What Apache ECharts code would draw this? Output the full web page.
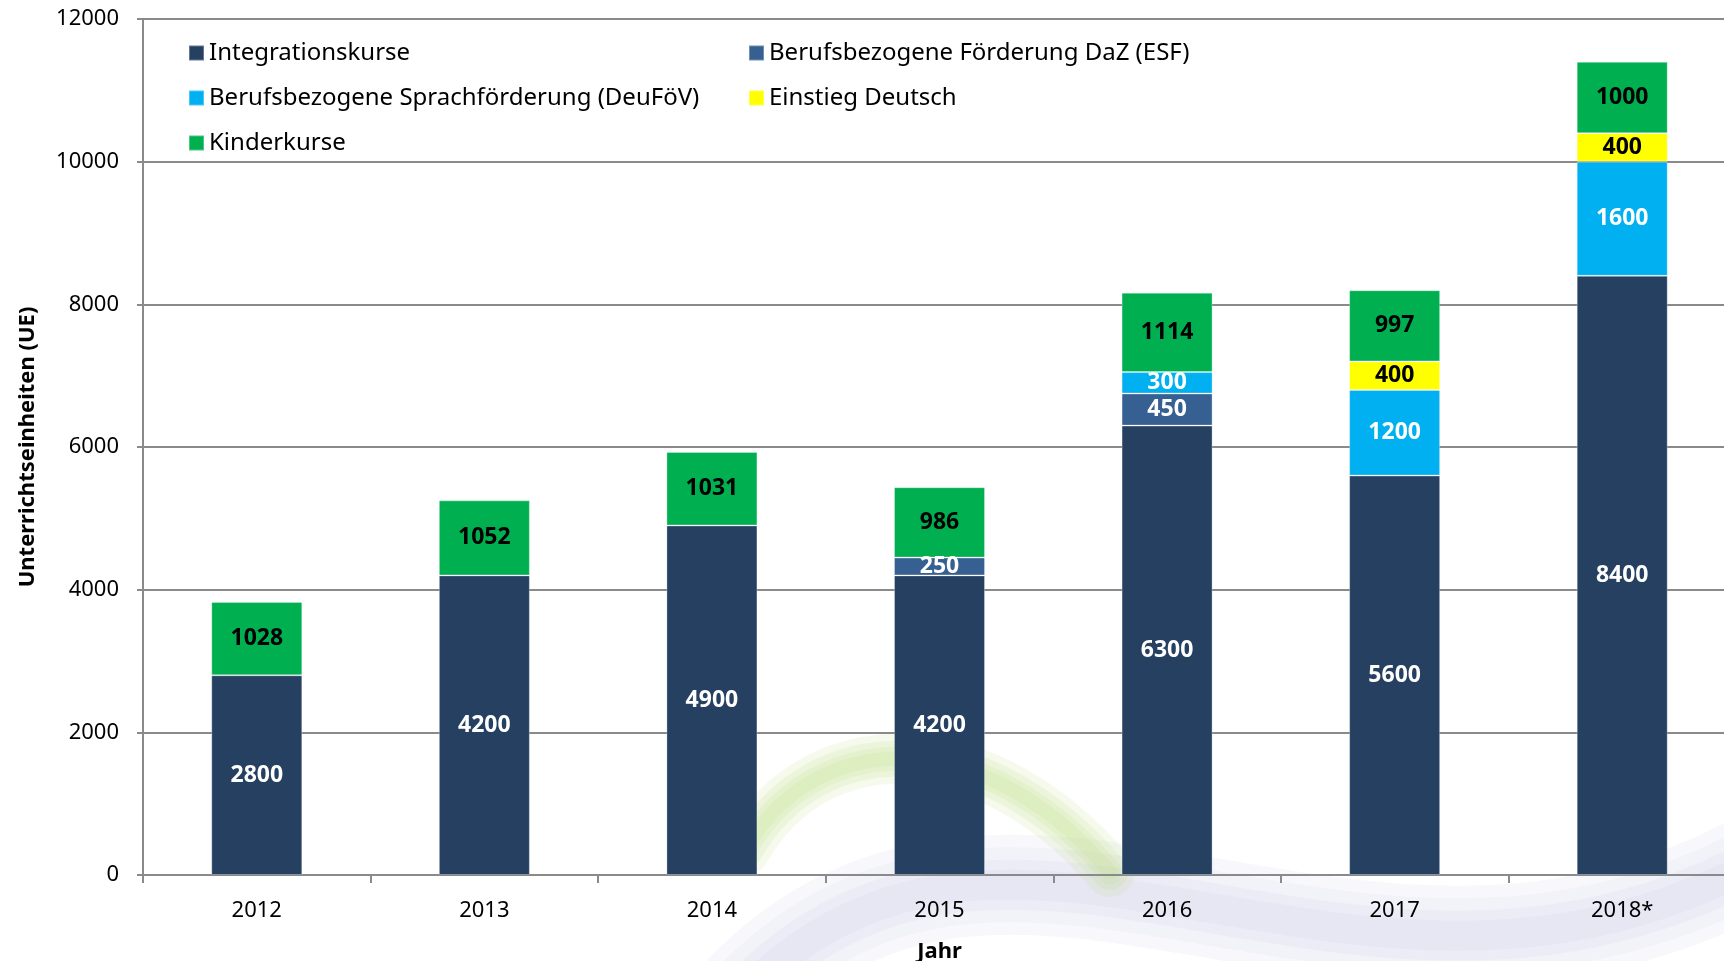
<!DOCTYPE html>
<html>
<head>
<meta charset="utf-8">
<script src="https://cdn.jsdelivr.net/npm/echarts@6/dist/echarts.min.js"></script>
<style>
  html, body { margin: 0; padding: 0; background: #fff; }
  #chart { width: 1724px; height: 961px; }
</style>
</head>
<body>
<div id="chart"></div>
<script>
// Daten
const jahre = ['2012', '2013', '2014', '2015', '2016', '2017', '2018*'];
const integrationskurse = [2800, 4200, 4900, 4200, 6300, 5600, 8400];
const foerderungESF = [null, null, null, 250, 450, null, null];
const sprachfoerderungDeuFoeV = [null, null, null, null, 300, 1200, 1600];
const einstiegDeutsch = [null, null, null, null, null, 400, 400];
const kinderkurse = [1028, 1052, 1031, 986, 1114, 997, 1000];

const FONT = "'Noto Sans', 'Open Sans', sans-serif";

const chart = echarts.init(document.getElementById('chart'));

function serie(name, data, color, labelColor) {
	return {
		name: name,
		type: 'bar',
		stack: 'ue',
		data: data,
		barWidth: 91,
		itemStyle: { color: color, borderColor: 'rgba(255,255,255,0.3)', borderWidth: 1 },
		label: {
			show: true,
			position: 'inside',
			color: labelColor,
			fontFamily: FONT,
			fontWeight: 'bold',
			fontSize: 23
		}
	};
}

// weiches Wasserzeichen: mehrere uebereinanderliegende Striche
function schwung(shape, rgb, breiten, alpha, z) {
	return breiten.map(b => ({
		type: 'bezierCurve', z: z, silent: true,
		shape: shape,
		style: { stroke: 'rgba(' + rgb + ',' + alpha + ')', lineWidth: b, fill: null, lineCap: 'round' }
	}));
}

const blauForm = { x1: 720, y1: 1020, cpx1: 1000, cpy1: 690, cpx2: 1350, cpy2: 1100, x2: 1780, y2: 850 };
const gruenForm = { x1: 745, y1: 850, cpx1: 820, cpy1: 720, cpx2: 990, cpy2: 730, x2: 1110, y2: 872 };

const legendText = { fontFamily: FONT, fontSize: 24, color: '#000' };

let option = {
	animation: false,
	backgroundColor: '#fff',
	grid: { left: 143, right: -12, top: 19, bottom: 86, outerBoundsMode: 'none', containLabel: false },
	graphic: [].concat(
		schwung(blauForm, '200,204,232', [100, 75, 50, 30], 0.13, -10),
		schwung(gruenForm, '185,218,120', [50, 36, 24, 14], 0.14, -9)
	),
	legend: [
		{
			left: 183, top: 36, orient: 'vertical', itemGap: 21,
			itemWidth: 15, itemHeight: 15, icon: 'rect',
			textStyle: legendText,
			data: ['Integrationskurse', 'Berufsbezogene Sprachförderung (DeuFöV)', 'Kinderkurse']
		},
		{
			left: 743, top: 36, orient: 'vertical', itemGap: 21,
			itemWidth: 15, itemHeight: 15, icon: 'rect',
			textStyle: legendText,
			data: ['Berufsbezogene Förderung DaZ (ESF)', 'Einstieg Deutsch']
		}
	],
	xAxis: {
		type: 'category',
		data: jahre,
		name: 'Jahr',
		nameLocation: 'middle',
		nameGap: 66,
		nameTextStyle: { fontFamily: FONT, fontSize: 22, fontWeight: 'bold', color: '#000' },
		axisLine: { lineStyle: { color: '#8a8a8a', width: 2 } },
		axisTick: { show: true, length: 8, lineStyle: { color: '#8a8a8a', width: 2 } },
		axisLabel: { fontFamily: FONT, fontSize: 22, color: '#000', margin: 25 }
	},
	yAxis: {
		type: 'value',
		min: 0,
		max: 12000,
		interval: 2000,
		name: 'Unterrichtseinheiten (UE)',
		nameLocation: 'middle',
		nameGap: 104,
		nameTextStyle: { fontFamily: FONT, fontSize: 22, fontWeight: 'bold', color: '#000' },
		axisLine: { show: true, lineStyle: { color: '#8a8a8a', width: 2 } },
		axisTick: { show: true, length: 6, lineStyle: { color: '#8a8a8a', width: 2 } },
		axisLabel: { fontFamily: FONT, fontSize: 22, color: '#000', margin: 24, formatter: v => String(v) },
		splitLine: { lineStyle: { color: '#8a8a8a', width: 2 } }
	},
	series: [
		serie('Integrationskurse', integrationskurse, '#264061', '#fff'),
		serie('Berufsbezogene Förderung DaZ (ESF)', foerderungESF, '#376092', '#fff'),
		serie('Berufsbezogene Sprachförderung (DeuFöV)', sprachfoerderungDeuFoeV, '#00B0F0', '#fff'),
		serie('Einstieg Deutsch', einstiegDeutsch, '#FFFF00', '#000'),
		serie('Kinderkurse', kinderkurse, '#00B050', '#000')
	]
};

chart.setOption(option);
</script>
</body>
</html>
